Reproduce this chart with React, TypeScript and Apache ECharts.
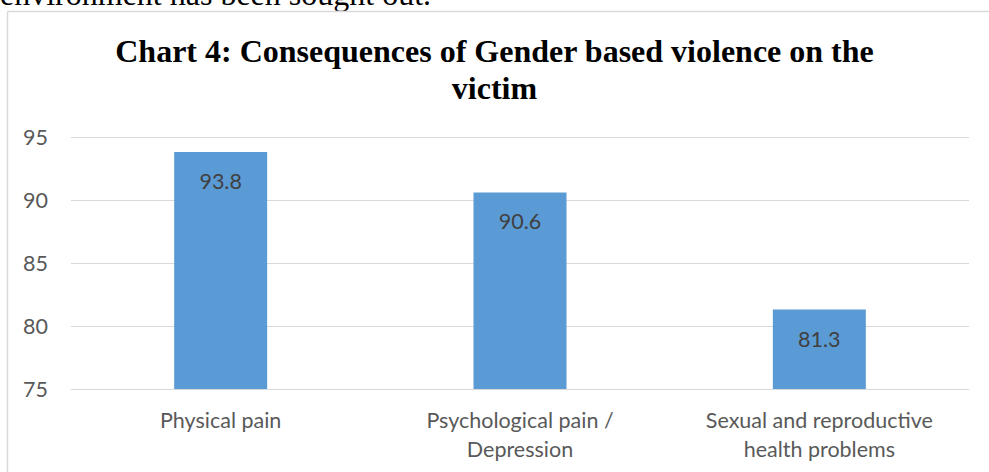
import React, { useEffect, useRef } from "react";
import * as echarts from "echarts";

const categories = ["Physical pain", "Psychological pain /\nDepression", "Sexual and reproductive\nhealth problems"];
const values = [93.8, 90.6, 81.3];
const titleLines = ["Chart 4: Consequences of Gender based violence on the", "victim"];
const topText = "environment has been sought out.";

export default function App() {
  const ref = useRef<HTMLDivElement>(null);
  useEffect(() => {
    const chart = echarts.init(ref.current!, null, { renderer: "svg" });
    chart.setOption({
      animation: false,
      backgroundColor: "#ffffff",
      title: {
        text: titleLines.join("\n"),
        left: "center",
        top: 27,
        textStyle: {
          fontFamily: "Liberation Serif",
          fontWeight: "bold",
          fontSize: 32,
          color: "#000000",
          lineHeight: 37,
        },
      },
      graphic: [
        {
          type: "text",
          left: 0,
          top: -22,
          style: { text: topText, font: "32px 'Liberation Serif'", fill: "#000000" },
        },
        {
          type: "line",
          shape: { x1: 7.5, y1: 11.5, x2: 989, y2: 11.5 },
          style: { stroke: "#d9d9d9", lineWidth: 1.5 },
        },
        {
          type: "line",
          shape: { x1: 7.5, y1: 11.5, x2: 7.5, y2: 472 },
          style: { stroke: "#d9d9d9", lineWidth: 1.5 },
        },
      ],
      grid: { left: 71, right: 20, top: 137, bottom: 83, containLabel: false },
      xAxis: {
        type: "category",
        data: categories,
        axisLine: { show: true, lineStyle: { color: "#d9d9d9", width: 1 } },
        axisTick: { show: false },
        axisLabel: {
          fontFamily: "Lato",
          fontSize: 21.5,
          color: "#595959",
          lineHeight: 29,
          margin: 16,
        },
      },
      yAxis: {
        type: "value",
        min: 75,
        max: 95,
        interval: 5,
        axisLine: { show: false },
        axisTick: { show: false },
        splitLine: { lineStyle: { color: "#d9d9d9", width: 1 } },
        axisLabel: { fontFamily: "Lato", fontSize: 21.5, color: "#595959", margin: 23 },
      },
      series: [
        {
          type: "bar",
          data: values,
          barWidth: 93,
          itemStyle: { color: "#5b9bd5" },
          label: {
            show: true,
            position: "insideTop",
            distance: 18,
            fontFamily: "Lato",
            fontSize: 21.5,
            color: "#404040",
          },
        },
      ],
    });
    return () => chart.dispose();
  }, []);
  return <div ref={ref} style={{ position: "fixed", left: 0, top: 0, width: 989, height: 472 }} />;
}
